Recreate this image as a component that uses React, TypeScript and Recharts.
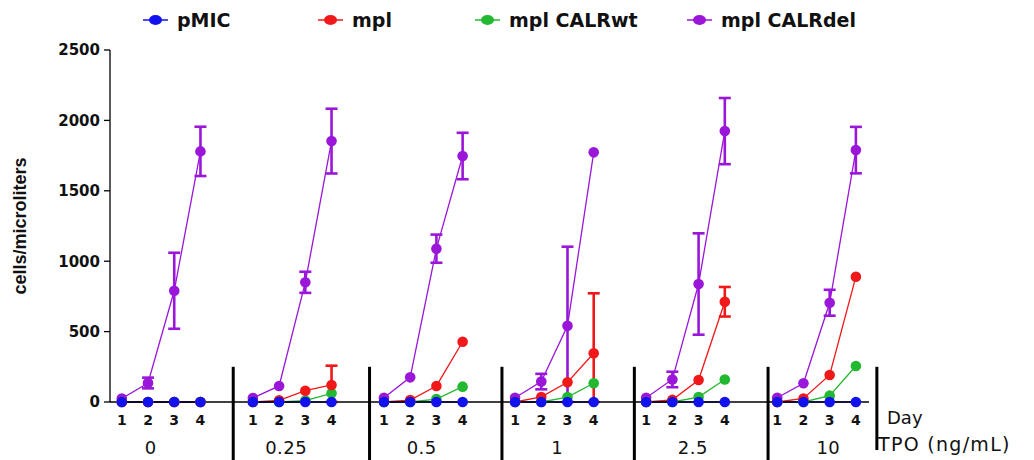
import React from 'react';
import { LineChart, Line, XAxis, YAxis, ErrorBar, ReferenceLine, Legend } from 'recharts';

// ---- data ----
const TPO_LABELS = ['0', '0.25', '0.5', '1', '2.5', '10'];
const DAYS = [1, 2, 3, 4];
const SERIES_NAMES = ['pMIC', 'mpl', 'mpl CALRwt', 'mpl CALRdel'];

// values per TPO group, days 1..4
const PMIC = [0, 0, 0, 0, 0, 0, 0, 0, 0, 0, 0, 0, 0, 0, 0, 0, 0, 0, 0, 0, 0, 0, 0, 0];
const MPL = [0, 0, 0, 0, 0, 12, 80, 121, 0, 14, 114, 428, 0, 36, 140, 346, 0, 15, 156, 712, 0, 25, 192, 890];
const MPL_ERR: (number | number[])[] = [0, 0, 0, 0, 0, 0, 0, [121, 137], 0, 0, 0, 0, 0, 0, 0, [346, 426], 0, 0, 0, 105, 0, 0, 0, 0];
const CALRWT = [0, 0, 0, 0, 0, 0, 10, 62, 0, 0, 21, 109, 0, 0, 35, 133, 0, 0, 35, 160, 0, 0, 45, 256];
const CALRDEL = [25, 135, 790, 1780, 28, 114, 850, 1853, 30, 175, 1089, 1747, 30, 145, 542, 1773, 30, 160, 838, 1924, 30, 133, 705, 1789];
const CALRDEL_ERR: (number | number[])[] = [0, 38, 270, 175, 0, 0, 75, 230, 0, 0, 100, 165, 0, 55, [542, 561], 0, 0, 55, 360, 235, 0, 0, 92, 165];
const Y_TICKS = [0, 500, 1000, 1500, 2000, 2500];

// ---- layout / style (not data) ----
const COLORS = ['#1212ee', '#f01818', '#22b830', '#9a16d8'];
const SLOTS_PER_GROUP = 5;
const X_DOMAIN = [-0.45, 28.5];
const SEPARATORS = [4.25, 9.45, 14.5, 19.55, 24.65, 28.8];
const LEGEND_LEFT = [143, 318, 475, 687];

type Row = { x: number; day?: number; pmic?: number | null; mpl?: number | null; mplErr?: any; wt?: number | null; del?: number | null; delErr?: any };

const rows: Row[] = [];
TPO_LABELS.forEach((_, g) => {
  DAYS.forEach((d, di) => {
    const i = g * DAYS.length + di;
    rows.push({
      x: g * SLOTS_PER_GROUP + di,
      day: d,
      pmic: PMIC[i],
      mpl: MPL[i],
      mplErr: MPL_ERR[i],
      wt: CALRWT[i],
      del: CALRDEL[i],
      delErr: CALRDEL_ERR[i],
    });
  });
  if (g < TPO_LABELS.length - 1) {
    rows.push({ x: g * SLOTS_PER_GROUP + DAYS.length, pmic: null, mpl: null, wt: null, del: null });
  }
});

const DAY_TICKS = rows.filter((r) => r.day !== undefined).map((r) => r.x);
const dayOf = (v: number) => {
  const r = rows.find((rr) => rr.x === v);
  return r && r.day !== undefined ? String(r.day) : '';
};
const GROUP_TICKS = TPO_LABELS.map((_, g) => g * SLOTS_PER_GROUP + (DAYS.length - 1) / 2);
const groupOf = (v: number) => {
  const g = GROUP_TICKS.indexOf(v);
  return g >= 0 ? TPO_LABELS[g] : '';
};

const BOLD = { fontFamily: '"DejaVu Sans"', fontWeight: 'bold', fill: '#111' } as const;

function LegendContent() {
  return (
    <div style={{ position: 'relative', width: 1034, height: 30 }}>
      {SERIES_NAMES.map((name, i) => (
        <div
          key={name}
          style={{ position: 'absolute', left: LEGEND_LEFT[i], top: 0, height: 30, display: 'flex', alignItems: 'center' }}
        >
          <svg width={25} height={14}>
            <line x1={0} y1={7} x2={25} y2={7} stroke={COLORS[i]} strokeWidth={1.5} />
            <ellipse cx={12.5} cy={7} rx={6.5} ry={5} fill={COLORS[i]} />
          </svg>
          <span style={{ marginLeft: 9, fontFamily: '"DejaVu Sans"', fontWeight: 'bold', fontSize: 19, color: '#111', whiteSpace: 'nowrap' }}>
            {name}
          </span>
        </div>
      ))}
    </div>
  );
}

export default function App() {
  const dot = (c: string) => ({ r: 5.3, fill: c, stroke: c, strokeWidth: 0 });
  return (
    <div style={{ position: 'absolute', left: 0, top: 0, background: '#fff' }}>
      <LineChart width={1034} height={460} data={rows} margin={{ top: 50, right: 165, bottom: 6, left: 0 }}>
        <XAxis
          dataKey="x"
          type="number"
          domain={X_DOMAIN}
          ticks={DAY_TICKS}
          interval={0}
          tickFormatter={dayOf}
          tickLine={false}
          tickSize={0}
          tickMargin={13}
          height={32}
          axisLine={{ stroke: '#000', strokeWidth: 1.3 }}
          tick={{ ...BOLD, fontSize: 14 }}
          label={{ value: 'Day', position: 'right', offset: 18, style: { fontFamily: '"DejaVu Sans"', fontSize: 18, fill: '#111' } }}
        />
        <XAxis
          xAxisId="grp"
          type="number"
          domain={X_DOMAIN}
          ticks={GROUP_TICKS}
          interval={0}
          tickFormatter={groupOf}
          axisLine={false}
          tickLine={false}
          tickSize={0}
          tickMargin={7}
          height={20}
          tick={{ fontFamily: '"DejaVu Sans"', fontSize: 18, fill: '#111', letterSpacing: 0.5 }}
          label={{
            value: 'TPO (ng/mL)',
            position: 'right',
            offset: 9,
            style: { fontFamily: '"DejaVu Sans"', fontSize: 19, fill: '#111', letterSpacing: 1.3 },
          }}
        />
        <YAxis
          type="number"
          domain={[0, 2500]}
          ticks={Y_TICKS}
          interval={0}
          width={110}
          tickSize={6}
          tickMargin={4}
          axisLine={{ stroke: '#000', strokeWidth: 1.3 }}
          tickLine={{ stroke: '#000', strokeWidth: 1.3 }}
          tick={{ ...BOLD, fontSize: 15 }}
          label={{
            value: 'cells/microliters',
            angle: -90,
            position: 'insideLeft',
            offset: 20,
            style: { textAnchor: 'middle', fontFamily: '"Liberation Sans", Arial', fontWeight: 'bold', fontSize: 18, fill: '#111' },
          }}
        />
        <Legend
          layout="horizontal"
          verticalAlign="middle"
          align="center"
          content={<LegendContent />}
          wrapperStyle={{ top: 5, left: 0, width: 1034, height: 30 }}
        />
        {SEPARATORS.map((s, i) => (
          <ReferenceLine
            key={i}
            segment={[
              { x: s, y: 250 },
              { x: s, y: i === SEPARATORS.length - 1 ? -341 : -420 },
            ]}
            stroke="#000"
            strokeWidth={3}
            ifOverflow="visible"
          />
        ))}
        <Line dataKey="del" name={SERIES_NAMES[3]} stroke={COLORS[3]} strokeWidth={1.3} dot={dot(COLORS[3])} activeDot={false} isAnimationActive={false}>
          <ErrorBar dataKey="delErr" direction="y" width={6} strokeWidth={2.6} stroke={COLORS[3]} />
        </Line>
        <Line dataKey="wt" name={SERIES_NAMES[2]} stroke={COLORS[2]} strokeWidth={1.3} dot={dot(COLORS[2])} activeDot={false} isAnimationActive={false} />
        <Line dataKey="mpl" name={SERIES_NAMES[1]} stroke={COLORS[1]} strokeWidth={1.3} dot={dot(COLORS[1])} activeDot={false} isAnimationActive={false}>
          <ErrorBar dataKey="mplErr" direction="y" width={6} strokeWidth={2.6} stroke={COLORS[1]} />
        </Line>
        <Line dataKey="pmic" name={SERIES_NAMES[0]} stroke={COLORS[0]} strokeWidth={1.3} dot={dot(COLORS[0])} activeDot={false} isAnimationActive={false} />
      </LineChart>
    </div>
  );
}
